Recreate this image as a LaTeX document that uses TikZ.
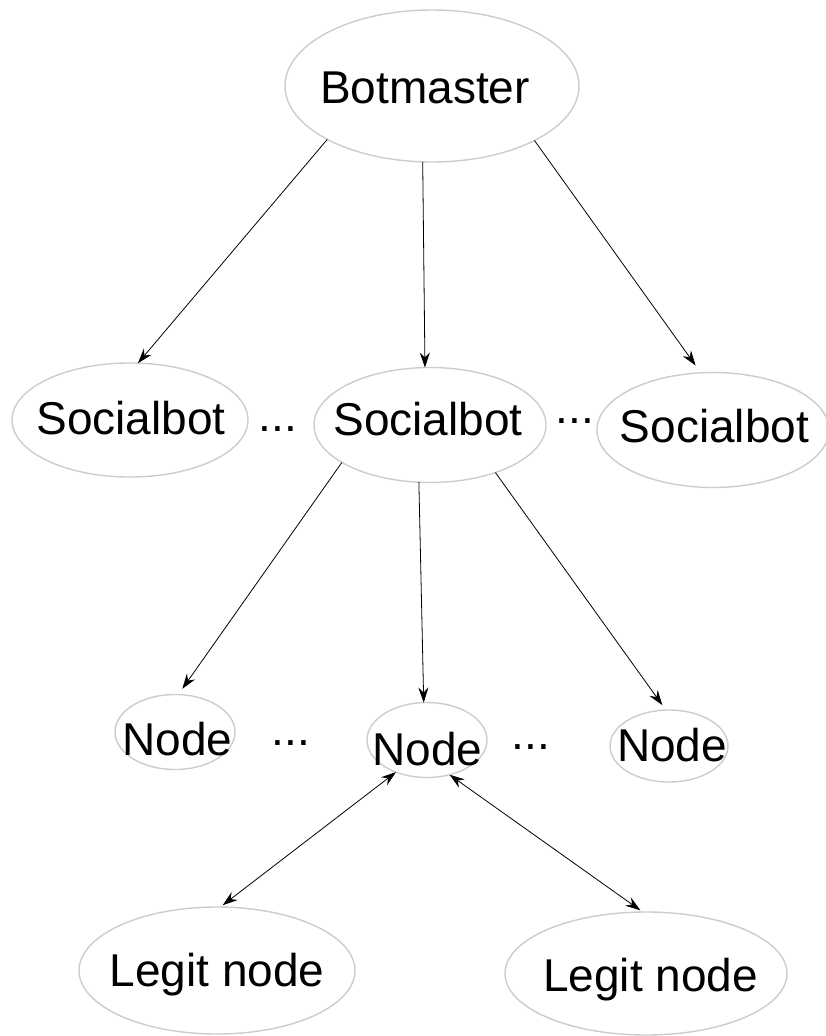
\documentclass[tikz,border=0pt]{standalone}
\usepackage{fontspec}
\setmainfont{Liberation Sans}
\usetikzlibrary{shapes.geometric,arrows.meta}
% label centred in an ellipse: #1 = twice the x offset, #2 = raise of the baseline
\newcommand\elabel[3]{\smash{\makebox[0pt]{\kern#1\raisebox{#2}{#3}}}}
\begin{document}
\begin{tikzpicture}[x=1pt,y=-1pt,
  every node/.style={font=\fontsize{46}{55}\selectfont},
  el/.style={ellipse, draw=gray!40, line width=1.4pt, inner sep=0pt, outer sep=0pt},
  tip/.tip={Stealth[length=15pt,width=10pt,inset=5pt]},
  con/.style={draw=black, line width=0.8pt, -tip},
  bi/.style={draw=black, line width=0.8pt, tip-tip},
  dotsnode/.style={anchor=base, inner sep=0pt}]
\useasboundingbox (0,0) rectangle (825,1036);

\node[el, minimum width=294pt, minimum height=152pt] (bm) at (432,86) {\elabel{-14pt}{-17.5pt}{Botmaster}};

\node[el, minimum width=236pt, minimum height=114pt] (sb1) at (130,420) {\elabel{2pt}{-14.5pt}{Socialbot}};
\node[el, minimum width=232pt, minimum height=115pt] (sb2) at (430,425) {\elabel{-4pt}{-10pt}{Socialbot}};
\node[el, minimum width=232pt, minimum height=115pt] (sb3) at (713,430) {\elabel{3pt}{-12pt}{Socialbot}};

\node[el, minimum width=120pt, minimum height=75pt] (n1) at (175,732) {\elabel{5pt}{-23pt}{Node}};
\node[el, minimum width=120pt, minimum height=75pt] (n2) at (427,740) {\elabel{1pt}{-25pt}{Node}};
\node[el, minimum width=118pt, minimum height=72pt] (n3) at (669,746) {\elabel{6pt}{-15pt}{Node}};

\node[el, minimum width=276pt, minimum height=127pt] (lg1) at (217,970.5) {\elabel{0pt}{-15.5pt}{Legit node}};
\node[el, minimum width=282pt, minimum height=123pt] (lg2) at (646,973.5) {\elabel{9pt}{-17.5pt}{Legit node}};

\node[dotsnode] (d1) at (278,431) {...};
\node[dotsnode] (d2) at (575,423) {...};
\node[dotsnode] (d3) at (291,745) {...};
\node[dotsnode] (d4) at (531,749) {...};

\draw[con] (bm.207) -- (sb1.82);
\draw[con] (bm.263) -- (sb2.95);
\draw[con, shorten >=9pt] (bm.332) -- (sb3.102);
\draw[con, shorten >=7pt] (sb2.203) -- (n1.85);
\draw[con] (sb2.259) -- (n2.95);
\draw[con, shorten >=6pt] (sb2.324) -- (n3.95);
\draw[bi, shorten >=3pt] (n2.226) -- (lg1.87);
\draw[bi, shorten >=3pt] (n2.303) -- (lg2.93);
\end{tikzpicture}
\end{document}
